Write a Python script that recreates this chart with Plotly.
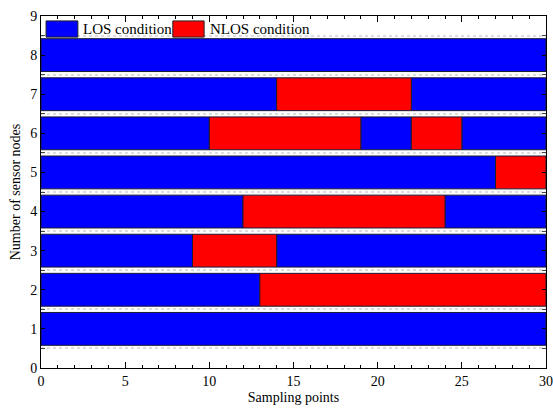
import plotly.graph_objects as go

# Link condition segments for each sensor node over the sampling points
seg_node = [1, 2, 2, 3, 3, 3, 4, 4, 4, 5, 5, 6, 6, 6, 6, 6, 7, 7, 7, 8]
seg_start = [0, 0, 13, 0, 9, 14, 0, 12, 24, 0, 27, 0, 10, 19, 22, 25, 0, 14, 22, 0]
seg_end = [30, 13, 30, 9, 14, 30, 12, 24, 30, 27, 30, 10, 19, 22, 25, 30, 14, 22, 30, 30]
seg_state = ["LOS", "LOS", "NLOS", "LOS", "NLOS", "LOS", "LOS", "NLOS", "LOS",
             "LOS", "NLOS", "LOS", "NLOS", "LOS", "NLOS", "LOS", "LOS", "NLOS", "LOS", "LOS"]

state_names = ["LOS", "NLOS"]
state_labels = ["LOS condition", "NLOS condition"]
state_colors = ["#0000ff", "#ff0000"]

FONT = "Liberation Serif, Times New Roman, serif"

fig = go.Figure()
for name, label, color in zip(state_names, state_labels, state_colors):
    idx = [i for i, s in enumerate(seg_state) if s == name]
    fig.add_trace(go.Bar(
        orientation="h",
        y=[seg_node[i] for i in idx],
        base=[seg_start[i] for i in idx],
        x=[seg_end[i] - seg_start[i] for i in idx],
        width=0.84,
        marker=dict(color=color, line=dict(color="#1a1a33", width=1)),
        name=label,
        showlegend=False,
    ))

# Legend drawn as wide swatches inside the top of the plot area
legend_items = [(0.010, 0.073, 0.080), (0.261, 0.323, 0.330)]
for (x0, x1, xt), label, color in zip(legend_items, state_labels, state_colors):
    fig.add_shape(type="rect", xref="paper", yref="paper",
                  x0=x0, x1=x1, y0=0.940, y1=0.986,
                  fillcolor=color, line=dict(color="#222222", width=1))
    fig.add_annotation(xref="paper", yref="paper", x=xt, y=0.963,
                       text=label, showarrow=False, xanchor="left", yanchor="middle",
                       font=dict(family=FONT, size=15, color="black"))

fig.update_layout(
    width=553, height=411,
    margin=dict(l=41, r=7, t=16, b=43, autoexpand=False),
    barmode="overlay",
    plot_bgcolor="white",
    paper_bgcolor="white",
    font=dict(family=FONT, size=14, color="black"),
)
fig.update_xaxes(
    range=[0, 30], tick0=0, dtick=5,
    ticks="inside", ticklen=6, tickcolor="black",
    showline=True, linecolor="black", linewidth=1, mirror="ticks",
    showgrid=False, zeroline=False, automargin=False,
    minor=dict(tick0=0, dtick=1, ticks="inside", ticklen=3, tickcolor="black", showgrid=False),
    title=dict(text="Sampling points", font=dict(family=FONT, size=14), standoff=4),
    tickfont=dict(family=FONT, size=14),
)
fig.update_yaxes(
    range=[0, 9], tick0=0, dtick=1,
    ticks="inside", ticklen=4, tickcolor="black",
    showline=True, linecolor="black", linewidth=1, mirror="ticks",
    showgrid=False, zeroline=False, automargin=False,
    minor=dict(tick0=0.5, dtick=1, ticks="inside", ticklen=4, tickcolor="#444444",
               showgrid=True, gridcolor="#dcdcdc", gridwidth=2, griddash="dot"),
    title=dict(text="Number of sensor nodes", font=dict(family=FONT, size=14), standoff=6),
    tickfont=dict(family=FONT, size=14),
)

fig.write_html("out.html")
